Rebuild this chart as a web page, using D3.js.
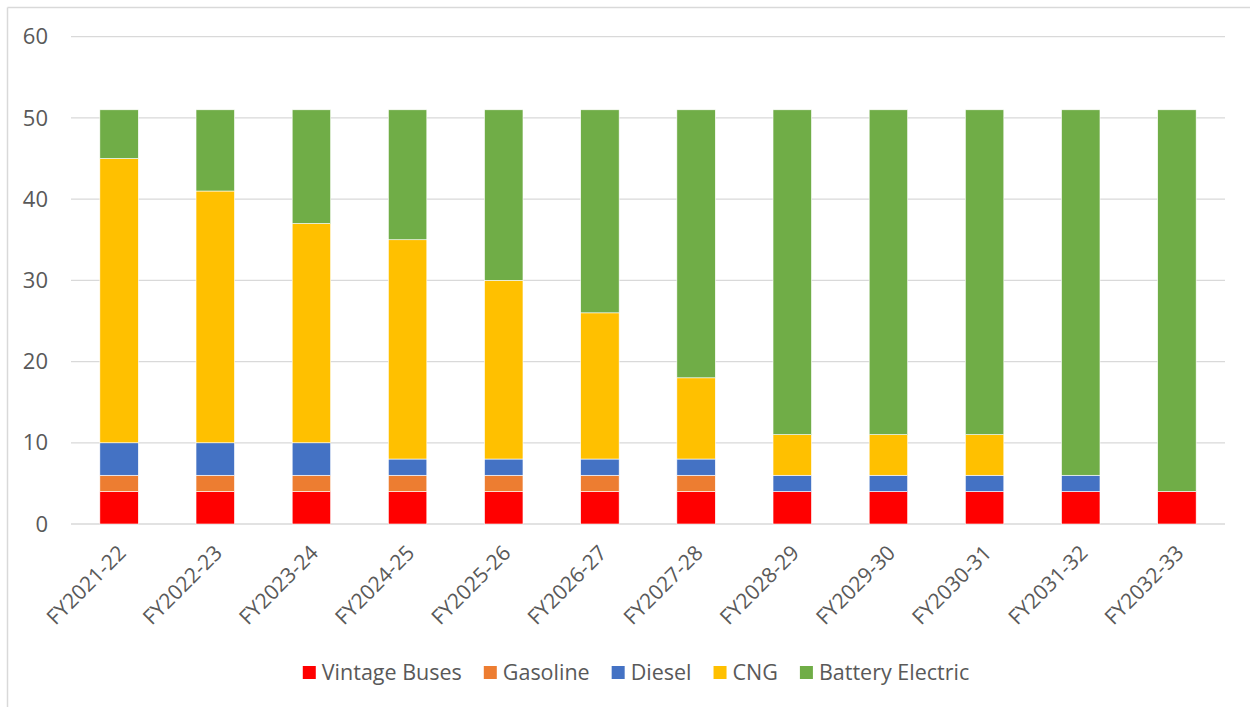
<!DOCTYPE html>
<html>
<head>
<meta charset="utf-8">
<script src="https://cdn.jsdelivr.net/npm/d3@7"></script>
<style>
  body { margin: 0; background: #fff; }
  text { font-family: "Open Sans", "Noto Sans", sans-serif; fill: #595959; }
</style>
</head>
<body>
<div id="chart"></div>
<script>
// data
var years = ["FY2021-22", "FY2022-23", "FY2023-24", "FY2024-25", "FY2025-26", "FY2026-27",
             "FY2027-28", "FY2028-29", "FY2029-30", "FY2030-31", "FY2031-32", "FY2032-33"];
var seriesNames = ["Vintage Buses", "Gasoline", "Diesel", "CNG", "Battery Electric"];
var vintage  = [4, 4, 4, 4, 4, 4, 4, 4, 4, 4, 4, 4];
var gasoline = [2, 2, 2, 2, 2, 2, 2, 0, 0, 0, 0, 0];
var diesel   = [4, 4, 4, 2, 2, 2, 2, 2, 2, 2, 2, 0];
var cng      = [35, 31, 27, 27, 22, 18, 10, 5, 5, 5, 0, 0];
var battery  = [6, 10, 14, 16, 21, 25, 33, 40, 40, 40, 45, 47];
var yTicks = [0, 10, 20, 30, 40, 50, 60];

var colors = ["#ff0000", "#ed7d31", "#4472c4", "#ffc000", "#70ad47"];

var W = 1250, H = 707;
var svg = d3.select("#chart").append("svg")
  .attr("width", W).attr("height", H);

// outer chart border (only top/left visible)
svg.append("line").attr("x1", 7.5).attr("x2", 7.5).attr("y1", 7.5).attr("y2", H)
  .attr("stroke", "#d9d9d9").attr("stroke-width", 1.5);
svg.append("line").attr("x1", 7.5).attr("x2", W).attr("y1", 7.5).attr("y2", 7.5)
  .attr("stroke", "#d9d9d9").attr("stroke-width", 1.5);

var table = years.map(function(y, i) {
  return { year: y, "Vintage Buses": vintage[i], "Gasoline": gasoline[i], "Diesel": diesel[i],
           "CNG": cng[i], "Battery Electric": battery[i] };
});
var stacked = d3.stack().keys(seriesNames)(table);

var x = d3.scaleBand().domain(years).range([71, 1225]).paddingInner(0.6).paddingOuter(0.3);
var y = d3.scaleLinear().domain([0, 60]).range([524, 36.7]);

// gridlines
svg.append("g")
  .selectAll("line").data(yTicks).enter().append("line")
  .attr("x1", 71).attr("x2", 1225)
  .attr("y1", function(d) { return y(d); }).attr("y2", function(d) { return y(d); })
  .attr("stroke", "#d9d9d9").attr("stroke-width", 1.3);

// y tick labels
svg.append("g")
  .selectAll("text").data(yTicks).enter().append("text")
  .attr("x", 48).attr("y", function(d) { return y(d); })
  .attr("dy", "0.35em").attr("text-anchor", "end")
  .style("font-size", "22px")
  .text(function(d) { return d; });

// bars
svg.append("g").selectAll("g").data(stacked).enter().append("g")
  .attr("fill", function(d, i) { return colors[i]; })
  .selectAll("rect").data(function(d) { return d; }).enter().append("rect")
  .attr("x", function(d) { return x(d.data.year); })
  .attr("width", x.bandwidth())
  .attr("y", function(d) { return y(d[1]); })
  .attr("height", function(d) { return y(d[0]) - y(d[1]); })
  .attr("stroke", "#ffffff").attr("stroke-width", 0.6);

// x labels, rotated
svg.append("g").selectAll("text").data(years).enter().append("text")
  .attr("transform", function(d) {
    return "translate(" + (x(d) + x.bandwidth() / 2 + 3) + ",549) rotate(-45)";
  })
  .attr("text-anchor", "end")
  .attr("dy", "0.35em")
  .style("font-size", "21px")
  .text(function(d) { return d; });

// legend
var legend = svg.append("g");
var lx = 0;
seriesNames.forEach(function(name, i) {
  var g = legend.append("g").attr("transform", "translate(" + lx + ",0)");
  g.append("rect").attr("x", 0).attr("y", -6).attr("width", 13).attr("height", 13)
    .attr("fill", colors[i]);
  var t = g.append("text").attr("x", 19).attr("y", 0).attr("dy", "0.35em")
    .style("font-size", "21.5px").text(name);
  lx += 19 + t.node().getComputedTextLength() + 22;
});
var legW = lx - 22;
legend.attr("transform", "translate(" + (636 - legW / 2) + ",672)");
</script>
</body>
</html>
